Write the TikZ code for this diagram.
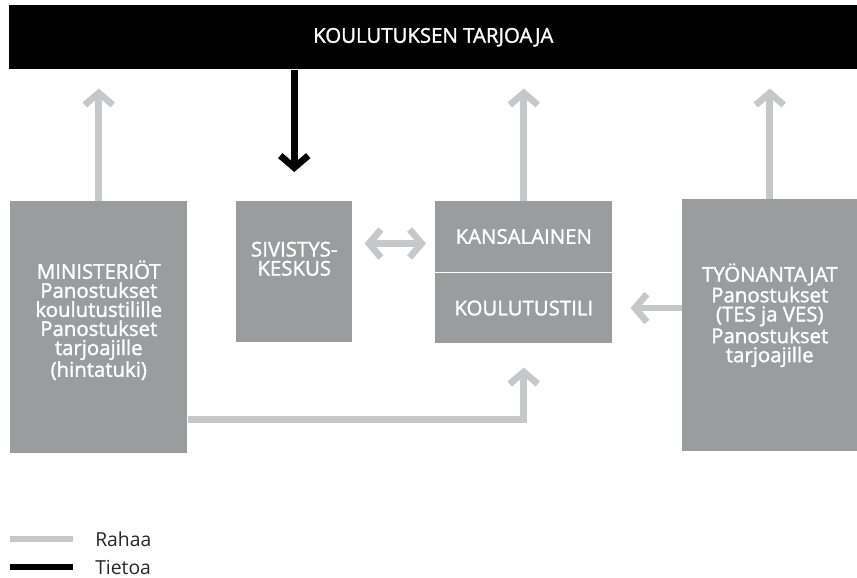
\documentclass[tikz,border=0pt]{standalone}
\usepackage{fontspec}
\setmainfont{Open Sans}
\newfontfamily\boxfont[FakeBold=1.5]{Open Sans}
\usetikzlibrary{arrows.meta,positioning}

\definecolor{boxgray}{HTML}{9B9C9E}
\definecolor{moneygray}{HTML}{C6C7C8}

\begin{document}
\begin{tikzpicture}[x=0.75pt,y=-0.75pt,
  >={Straight Barb[length=9pt,width=21pt]},
  box/.style={fill=boxgray,anchor=north west,inner sep=0pt,text=white,
    font=\boxfont\fontsize{15.3}{14.3}\selectfont},
  boxtext/.style={text=white,align=center,inner sep=0pt,
    font=\boxfont\fontsize{15.3}{14.3}\selectfont},
  money/.style={draw=moneygray,line width=5pt},
  info/.style={draw=black,line width=5pt},
  legendtext/.style={text=black!85,inner sep=0pt,
    font=\fontsize{14.5}{14.3}\selectfont}]

  \useasboundingbox (0,0) rectangle (857,578);

  % boxes
  \node[box,fill=black,minimum width=636pt,minimum height=48pt] (tarjoaja) at (9,5) {KOULUTUKSEN TARJOAJA};
  \node[box,minimum width=132.75pt,minimum height=189pt] (minist) at (10,201) {};
  \node[box,minimum width=87pt,minimum height=105.75pt] (sivist) at (236,201) {};
  \node[box,minimum width=132.75pt,minimum height=52.9pt] (kansa) at (435,201) {KANSALAINEN};
  \node[box,minimum width=132.75pt,minimum height=52.9pt] (tili) at (435,272.5) {KOULUTUSTILI};
  \node[box,minimum width=131.25pt,minimum height=189pt] (tyon) at (682,199) {};

  \node[boxtext] (ministtext) at ([yshift=5.25pt]minist.center) {MINISTERIÖT\\Panostukset\\koulutustilille\\Panostukset\\tarjoajille\\(hintatuki)};
  \node[boxtext] (sivisttext) at ([yshift=9.75pt]sivist.center) {SIVISTYS-\\KESKUS};
  \node[boxtext] (tyontext) at ([yshift=7.5pt]tyon.center) {TYÖNANTAJAT\\Panostukset\\(TES ja VES)\\Panostukset\\tarjoajille};

  % arrows
  \foreach \n in {minist,kansa,tyon}
    \draw[money,->,shorten >=14.25pt] (\n.north) -- (\n.north |- tarjoaja.south);
  \draw[info,->,shorten >=21.75pt] (sivist.north |- tarjoaja.south) -- (sivist.north);
  \coordinate (swap) at ([yshift=-5.25pt]kansa.west);
  \draw[money,<->,shorten <=9pt,shorten >=6.75pt] (swap -| sivist.east) -- (swap);
  \draw[money,->,shorten >=13.5pt] (tili.east -| tyon.west) -- (tili.east);
  \draw[money,->,shorten >=18pt] ([yshift=-69pt]minist.east) -| (tili.south);

  % legend
  \coordinate (rahaa) at (10,539);
  \coordinate (tietoa) at (10,567);
  \draw[money] (rahaa) -- ++(63,0) coordinate (rahaaend);
  \draw[info] (tietoa) -- ++(63,0) coordinate (tietoaend);
  \node[legendtext,right=16.5pt of rahaaend] (rahaatext) {Rahaa};
  \node[legendtext,right=16.5pt of tietoaend] (tietoatext) {Tietoa};

\end{tikzpicture}
\end{document}
